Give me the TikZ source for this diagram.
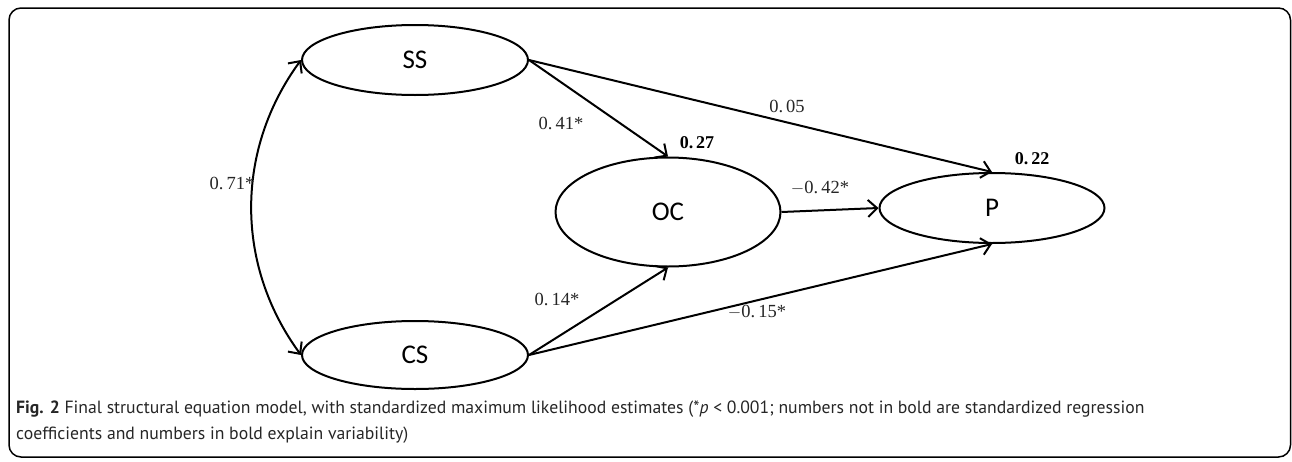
\documentclass[tikz,border=0pt]{standalone}
\usepackage{fontspec}
\setmainfont{Liberation Serif}
\newfontfamily\lblfont{Carlito}
\newfontfamily\capfont{PT Sans}
\usetikzlibrary{shapes.geometric,arrows.meta}
\begin{document}
\begin{tikzpicture}[x=1pt,y=-1pt,
  latent/.style={draw,ellipse,line width=2pt,inner sep=0pt,font=\lblfont\fontsize{27}{27}\selectfont},
  path/.style={line width=2pt,-{Straight Barb[length=9pt,width=17pt,line width=2pt]}},
  coef/.style={font=\fontsize{18.5}{18.5}\selectfont,text=black!85},
  rsq/.style={font=\bfseries\fontsize{18}{18}\selectfont},
  capline/.style={anchor=base west,inner sep=0pt,font=\capfont\fontsize{17.7}{17.7}\selectfont,text=black!85}]
\useasboundingbox (0,0) rectangle (1292,461);
\draw[line width=1.5pt,rounded corners=12pt] (9,8) rectangle (1290.5,457);
\node[latent,minimum width=226pt,minimum height=70pt] (SS) at (415,60) {SS};
\node[latent,minimum width=226pt,minimum height=68pt] (CS) at (415,355) {CS};
\node[latent,minimum width=225pt,minimum height=109pt] (OC) at (668,212) {OC};
\node[latent,minimum width=225pt,minimum height=70pt] (P) at (992,208) {P};
\draw[path] (SS.east) -- (OC.north);
\draw[path] (SS.east) -- (P.north);
\draw[path] (CS.east) -- (OC.south);
\draw[path] (CS.east) -- (P.south);
\draw[path] (OC.east) -- (P.west);
\draw[line width=2pt,{Straight Barb[length=9pt,width=17pt,line width=2pt]}-{Straight Barb[length=9pt,width=17pt,line width=2pt]}]
  (SS.west) .. controls (235,150) and (235,265) .. (CS.west);
\node[coef] (l41) at (561,123) {0.\,41*};
\node[coef] (l05) at (787,106) {0.\,05};
\node[rsq] (l27) at (697,143) {0.\,27};
\node[rsq] (l22) at (1032,159) {0.\,22};
\node[coef] (l42) at (820,188) {$-$0.\,42*};
\node[coef] (l14) at (557,299) {0.\,14*};
\node[coef] (l15) at (757,312) {$-$0.\,15*};
\node[coef] (l71) at (232,183) {0.\,71*};
\node[capline] (cap1) at (16,413) {\textbf{Fig. 2} Final structural equation model, with standardized maximum likelihood estimates (*\textit{p} < 0.001; numbers not in bold are standardized regression};
\node[capline] (cap2) at (16,439) {coefficients and numbers in bold explain variability)};
\end{tikzpicture}
\end{document}
